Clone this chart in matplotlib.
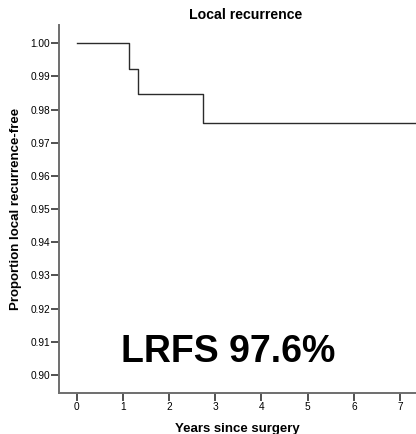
import numpy as np
import matplotlib
matplotlib.use('Agg')
import matplotlib.pyplot as plt

plt.rcParams['font.family'] = ['Liberation Sans', 'DejaVu Sans']

# Kaplan-Meier estimate for local recurrence
years = [0.0, 1.13, 1.32, 2.73, 7.9]
surv = [1.0, 0.9923, 0.9846, 0.976, 0.976]

x_ticks = [0, 1, 2, 3, 4, 5, 6, 7]
y_ticks = [0.90, 0.91, 0.92, 0.93, 0.94, 0.95, 0.96, 0.97, 0.98, 0.99, 1.00]

fig = plt.figure(figsize=(4.16, 4.34), dpi=100)
ax = fig.add_axes([0.1418, 0.0945, 0.8582, 0.8479])

ax.plot(years, surv, drawstyle='steps-post', color='#2b2b2b', lw=1.0)

ax.set_xlim(-0.383, 7.346)
ax.set_ylim(0.89457, 1.00552)
ax.set_xticks(x_ticks)
ax.set_yticks(y_ticks)
ax.set_yticklabels(['%.2f' % v for v in y_ticks])

for side in ['top', 'right']:
    ax.spines[side].set_visible(False)
for side in ['left', 'bottom']:
    ax.spines[side].set_color('#6e6e6e')
    ax.spines[side].set_linewidth(1.4)

ax.tick_params(axis='both', length=6, width=1.2, color='#333333',
               labelsize=7.3, pad=0.5)

ax.set_xlabel('Years since surgery', fontsize=9.5, fontweight='bold', labelpad=8)
ax.set_ylabel('Proportion local recurrence-free', fontsize=9.5, fontweight='bold', labelpad=6)

fig.text(0.591, 0.966, 'Local recurrence', ha='center', va='center',
         fontsize=10.2, fontweight='bold')

ax.text(3.28, 0.9069, 'LRFS %.1f%%' % (surv[-1] * 100), ha='center', va='center',
        fontsize=27, fontweight='bold')

fig.savefig('out.png', dpi=100)
